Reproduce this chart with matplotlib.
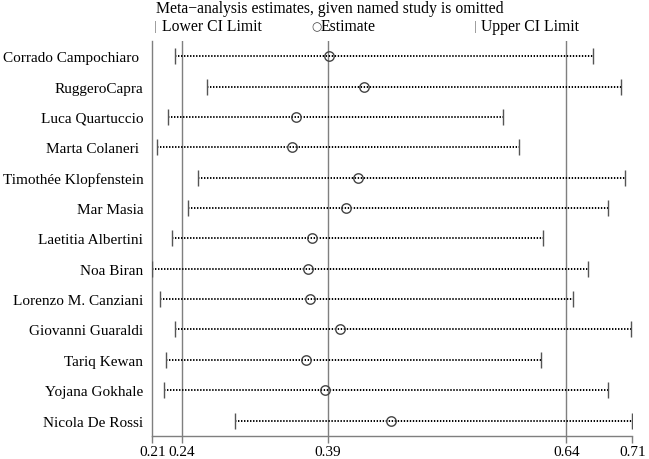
import matplotlib
matplotlib.use("Agg")
import matplotlib.pyplot as plt

plt.rcParams['font.family'] = ['Liberation Serif', 'DejaVu Serif']

studies = ["Corrado Campochiaro ", "RuggeroCapra", "Luca Quartuccio", "Marta Colaneri ",
           "Timothée Klopfenstein", "Mar Masia", "Laetitia Albertini", "Noa Biran",
           "Lorenzo M. Canziani", "Giovanni Guaraldi", "Tariq Kewan", "Yojana Gokhale",
           "Nicola De Rossi"]
estimate = [0.3944, 0.4308, 0.3600, 0.3555, 0.4246, 0.4115, 0.3760, 0.3725,
            0.3746, 0.4055, 0.3704, 0.3896, 0.4583]
lower = [0.2336, 0.2667, 0.2260, 0.2146, 0.2579, 0.2475, 0.2302, 0.2100,
         0.2180, 0.2336, 0.2240, 0.2222, 0.2965]
upper = [0.6694, 0.6979, 0.5756, 0.5923, 0.7024, 0.6850, 0.6173, 0.6635,
         0.6479, 0.7083, 0.6146, 0.6850, 0.7100]
overall = [0.2406, 0.3927, 0.6413]  # lower CI, estimate, upper CI
tick_vals = [0.21, 0.2406, 0.3927, 0.6413, 0.71]
tick_labels = ["0.21", "0.24", "0.39", "0.64", "0.71"]

W, H = 649, 460
fig = plt.figure(figsize=(W/100, H/100), dpi=100)
L, R, T, B = 152.3, 632.3, 42.0, 436.7
ax = fig.add_axes([L/W, 1 - B/H, (R-L)/W, (B-T)/H])

gray = "#7f7f7f"
n = len(studies)
ys = list(range(n))

for xv in overall:
    ax.axvline(xv, color=gray, lw=1.0, zorder=1)

for y, lo, hi, e in zip(ys, lower, upper, estimate):
    ax.plot([lo, hi], [y, y], color="black", lw=1.4, linestyle=(0, (0.7, 0.85)), zorder=2)
    ax.plot([lo, hi], [y, y], linestyle="none", marker="|", markersize=11,
            markeredgewidth=1.0, color="#555555", zorder=3)
    ax.plot([e], [y], linestyle="none", marker="o", markersize=6.8,
            markerfacecolor="none", markeredgecolor="#444444", markeredgewidth=1.0, zorder=4)

ax.set_xlim(0.21, 0.71)
ax.set_ylim(n - 0.5, -0.5)
ax.set_yticks(ys)
ax.set_yticklabels(studies, fontsize=11)
ax.tick_params(axis="y", length=0, pad=6.5)
ax.set_xticks(tick_vals)
ax.set_xticklabels(tick_labels, fontsize=11)
ax.tick_params(axis="x", length=5, width=1.0, color=gray, pad=2)

for s in ["top", "right"]:
    ax.spines[s].set_visible(False)
for s in ["left", "bottom"]:
    ax.spines[s].set_color(gray)
    ax.spines[s].set_linewidth(1.0)

# title and legend
fig.text(156/W, 1 - 9/H, "Meta\u2212analysis estimates, given named study is omitted",
         fontsize=11.3, va="center", ha="left")
fig.text(155/W, 1 - 27/H, "|", fontsize=9, va="center", ha="center", color="#666666")
fig.text(162/W, 1 - 27/H, "Lower CI Limit", fontsize=11.3, va="center", ha="left")
fig.text(316/W, 1 - 27/H, "\u25cb", fontsize=8.5, va="center", ha="center", color="#444444",
         family=["DejaVu Sans"])
fig.text(321/W, 1 - 27/H, "Estimate", fontsize=11.3, va="center", ha="left")
fig.text(475/W, 1 - 27/H, "|", fontsize=9, va="center", ha="center", color="#666666")
fig.text(481/W, 1 - 27/H, "Upper CI Limit", fontsize=11.3, va="center", ha="left")

fig.savefig("out.png", dpi=100)
